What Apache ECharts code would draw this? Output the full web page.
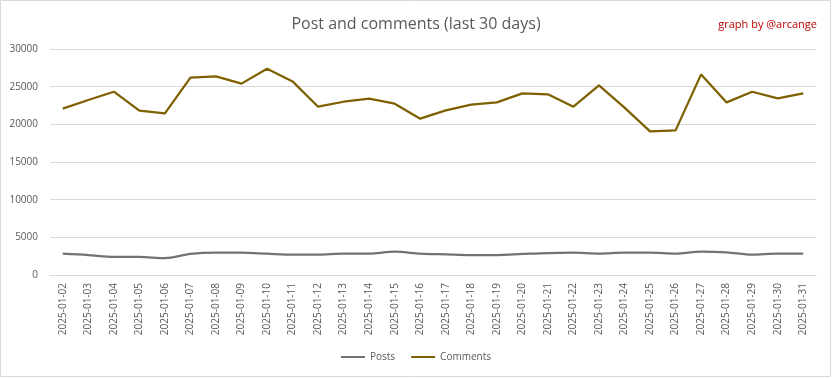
<!DOCTYPE html>
<html><head><meta charset="utf-8">
<script src="https://cdn.jsdelivr.net/npm/echarts@6/dist/echarts.min.js"></script>
<style>html,body{margin:0;padding:0;background:#fff}#c{width:832px;height:378px}</style>
</head><body><div id="c"></div>
<script>
const categories = ["2025-01-02","2025-01-03","2025-01-04","2025-01-05","2025-01-06","2025-01-07","2025-01-08","2025-01-09","2025-01-10","2025-01-11","2025-01-12","2025-01-13","2025-01-14","2025-01-15","2025-01-16","2025-01-17","2025-01-18","2025-01-19","2025-01-20","2025-01-21","2025-01-22","2025-01-23","2025-01-24","2025-01-25","2025-01-26","2025-01-27","2025-01-28","2025-01-29","2025-01-30","2025-01-31"];
const posts = [2830,2650,2390,2390,2250,2790,2960,2960,2830,2700,2700,2830,2830,3090,2830,2740,2650,2650,2790,2920,2960,2830,2960,2960,2830,3090,3000,2700,2830,2830];
const comments = [22080,23230,24330,21810,21450,26190,26360,25400,27390,25700,22340,23000,23400,22740,20750,21850,22610,22910,24110,23980,22340,25170,22210,19070,19200,26630,22910,24330,23440,24110];
const yTicks = [0,5000,10000,15000,20000,25000,30000];

const chart = echarts.init(document.getElementById('c'));
const font = 'Open Sans, sans-serif';
chart.setOption({
  animation: false,
  graphic: [{type:'rect', shape:{x:0.5,y:0.5,width:830,height:376}, style:{fill:'none', stroke:'#d9d9d9', lineWidth:1}, silent:true}],
  title: [
    {text:'Post and comments (last 30 days)', left:'center', top:11, textStyle:{fontFamily:font, fontWeight:'normal', fontSize:16, color:'#595959'}},
    {text:'graph by @arcange', right:10, top:14, textStyle:{fontFamily:font, fontWeight:'normal', fontSize:11, color:'#c00000'}}
  ],
  legend: {bottom:11, left:'center', itemWidth:24, itemHeight:2, itemGap:16, icon:'rect',
    textStyle:{fontFamily:font, fontSize:10, color:'#595959'},
    data:['Posts','Comments']},
  grid: {left:50, right:16, top:49, bottom:103},
  xAxis: {type:'category', data:categories, boundaryGap:true,
    axisLine:{lineStyle:{color:'#d9d9d9'}}, axisTick:{show:false},
    axisLabel:{rotate:90, interval:0, fontFamily:font, fontSize:10, color:'#595959', margin:8}},
  yAxis: {type:'value', min:yTicks[0], max:yTicks[yTicks.length-1], interval:5000,
    axisLine:{show:false}, axisTick:{show:false},
    splitLine:{lineStyle:{color:'#d9d9d9'}},
    axisLabel:{fontFamily:font, fontSize:10, color:'#595959', margin:12, formatter:v=>String(v)}},
  series: [
    {name:'Posts', type:'line', data:posts, smooth:0.3, symbol:'none', lineStyle:{color:'#767171', width:2.25}, itemStyle:{color:'#767171'}},
    {name:'Comments', type:'line', data:comments, symbol:'none', lineStyle:{color:'#7f6000', width:2.25}, itemStyle:{color:'#7f6000'}}
  ]
});
</script></body></html>
